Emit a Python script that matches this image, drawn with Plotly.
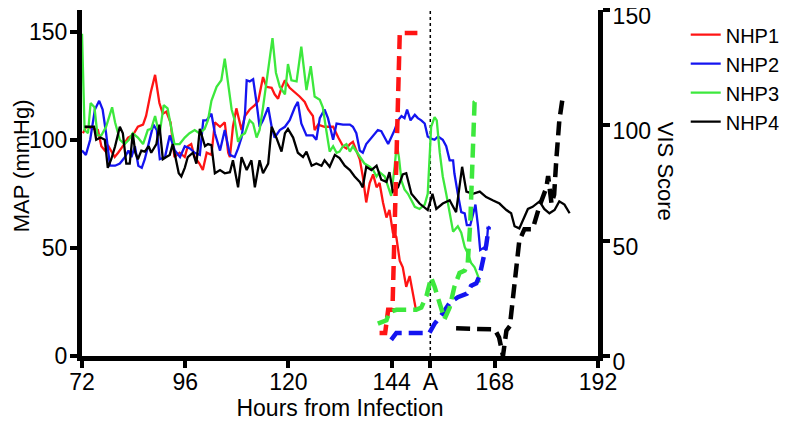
import plotly.graph_objects as go

# MAP (mmHg), left axis - hours from infection
nhp1_h = [72.2, 73, 74.6, 75.7, 76.5, 77.3, 78, 78.8, 79.6, 80.4, 81.5, 82.7, 83.8, 85, 86.2, 86.9, 88, 89, 90, 90.8,
          91.6, 92.6, 93.5, 94.7, 95.9, 96.6, 97.4, 98.2, 99.3, 100.1, 101, 102.1, 102.9, 104.1, 105.2, 106, 106.4, 107.1, 107.9, 109.1,
          109.9, 111, 112.2, 113, 114.1, 114.9, 116.1, 116.8, 117.6, 118.4, 119.2, 120.3, 121.5, 122.6, 123.8, 124.6, 125.7, 126.1, 126.9, 128.4,
          129.6, 130.4, 131.6, 132.7, 133.5, 134.3, 135, 135.8, 136.6, 137.3, 138.1, 138.9, 139.7, 140.5, 141.2, 142, 142.8, 143.5, 144.3, 145.1,
          145.9, 146.6, 147.4, 148.2, 149, 149.7]
nhp1_map = [103, 106, 105, 104.5, 97, 95, 97.5, 94.5, 92, 94, 97, 101, 102, 106, 107, 111, 122, 130, 117, 112,
            113, 108, 92, 94, 92, 97, 98, 92, 89, 86, 94, 93, 108, 106, 108, 94, 92, 106, 114.5, 104.5,
            111, 114, 116, 118, 129, 124.5, 124, 121, 119, 124, 127.5, 124, 122, 120, 117.5, 114, 111, 104.5, 107, 106,
            106, 106, 101, 97, 96, 98, 99, 95, 91, 83, 71, 80, 84, 78, 80, 71, 64, 67.5, 57, 55,
            44, 41, 32, 37, 29, 21]

nhp2_h = [72, 72.9, 73.9, 75, 76, 76.8, 77.6, 78.5, 79.7, 80.8, 82, 82.8, 83.5, 84.3, 85.1, 85.9, 86.6, 87.4, 88.6, 89.4,
          90.1, 91.3, 92.4, 93.6, 94.8, 95.9, 97.1, 98.2, 99.4, 100.2, 101, 102.1, 102.9, 104.1, 105.2, 106.4, 107.5, 108.3, 109.1, 109.9,
          110.3, 111, 111.8, 112.6, 113.3, 114.1, 115.3, 116.1, 116.8, 118, 119.2, 120.3, 121.5, 122.2, 123, 124.2, 125.7, 126.5, 127.3, 128.4,
          129.2, 130.4, 131.2, 132.7, 134.3, 135, 135.8, 136.6, 137.3, 138.1, 139.7, 140.8, 141.6, 142.4, 143.2, 143.9, 144.7, 145.5, 146.3, 147,
          147.6, 148.4, 149.4, 150.1, 150.9, 151.7, 152.4, 153.2, 154, 154.8, 155.9, 156.7, 157.5, 158.3, 158.6, 159.4, 160.2, 161, 161.5, 162.3,
          162.9, 163.5, 164.1, 164.6, 165.4, 166, 166.4, 166.8]
nhp2_map = [95, 93, 100, 114, 118, 114, 103, 88, 88, 89, 92, 95, 92, 97, 88, 87, 91, 98, 107, 104.5,
            91, 92, 102, 95, 92, 97, 96, 94, 93, 109, 109, 112, 103, 95, 104.5, 93, 92, 96, 101, 112,
            127.5, 127, 128, 117, 106, 109, 115, 106, 101, 104.5, 106, 109, 115, 117.5, 107.5, 102, 102, 100, 110, 114,
            110, 100, 107.5, 107, 107, 106, 103, 95, 94, 98, 102, 104.5, 104, 101, 98, 101, 104.5, 109, 111, 110,
            114, 109, 111.5, 110, 109, 107.5, 101.5, 100.5, 100, 101.5, 100, 97, 90.5, 90.5, 84.5, 75, 66.5, 66, 60.5, 60.5,
            66, 70, 60, 49, 50, 49, 59, 60]

nhp3_h = [72, 72.6, 73.4, 74, 74.9, 75.6, 76.5, 77.6, 79, 79.7, 80.8, 81.9, 82.9, 83.8, 85, 86.2, 87.3, 88.1, 89, 90,
          91, 91.9, 92.7, 93.5, 94.7, 95.9, 97, 98.2, 99.3, 100.5, 101.3, 102.1, 103.3, 104.4, 105.2, 106, 106.8, 107.5, 108.3, 109.1,
          109.9, 111, 111.8, 112.6, 113.3, 114.1, 114.9, 115.7, 116.3, 117.1, 118, 119.2, 119.9, 120.7, 121.9, 123, 124.2, 125.2, 126.1, 127.3,
          128, 128.8, 129.6, 130.4, 131.2, 131.9, 132.7, 133.5, 134.3, 135, 135.8, 136.6, 137.7, 138.9, 139.7, 140.5, 141.2, 142.4, 143.2, 143.9,
          144.7, 145.2, 145.7, 146.3, 147, 147.8, 148.6, 149.4, 150.5, 151.7, 152.4, 153.2, 154, 154.5, 155.2, 155.9, 156.7, 157.9, 158.3, 159.4,
          160.2, 161, 161.7, 162.5, 163.3, 164.1, 164.5]
nhp3_map = [149, 104.5, 103, 117, 115, 102, 102, 106, 115, 108, 100, 98, 100, 103, 101, 98, 104.5, 105, 111, 102,
            116, 114.5, 106, 98, 98, 101, 103, 104.5, 103, 105, 109, 118, 124.5, 127.5, 137.5, 124.5, 114, 109, 99, 102,
            103, 109, 107.5, 101, 104.5, 115, 126, 138, 147, 131, 124.5, 121, 135, 127.5, 127, 143, 123, 134, 120, 118.5,
            115, 104.5, 94.5, 97, 94, 94.5, 97, 98, 94.5, 97, 94.5, 92, 89, 87.5, 86, 83, 85, 83, 78, 74,
            87.5, 98, 92, 81, 77, 75, 72, 69, 68, 70, 75, 106, 110.5, 109, 94, 83, 75, 63, 57.5, 60,
            57, 50.5, 47.5, 43, 41, 37, 34]

nhp4_h = [72.6, 73.8, 74.8, 75.3, 76.3, 77.3, 78, 78.8, 79.7, 80.8, 81.5, 82.3, 83.1, 83.8, 84.4, 85, 85.8, 86.6, 87.5, 88.1,
          89.3, 90, 90.8, 91.6, 92.4, 93.1, 93.9, 94.5, 95.1, 95.9, 96.6, 97.8, 98.6, 99.4, 100.6, 101.3, 102.1, 102.9, 104.1, 105.2,
          106.4, 107.1, 108.3, 109.1, 110.3, 111.4, 112.2, 113.3, 114.1, 115.3, 116.1, 117.2, 118.4, 119.2, 119.9, 121.1, 122.2, 123.4, 124.2, 125.4,
          126.5, 127.7, 128.4, 129.6, 130.8, 131.9, 133.1, 134.3, 135.4, 136.6, 137.3, 138.1, 139.3, 140.5, 141.6, 142.8, 143.5, 144.3, 145.5, 146.6,
          147.4, 148.6, 150.5, 152.4, 153.5, 154.4, 155.9, 157.5, 159, 160.4, 161.4, 162.9, 164.5, 166, 167.5, 169.1, 169.9, 170.7, 171.8, 172.6,
          173.7, 174.9, 175.7, 176.8, 178.4, 179.5, 180.7, 181.9, 183, 184.2, 185.4]
nhp4_map = [106, 106, 106, 100, 101, 100, 87, 91, 97, 106, 103, 89, 89, 103, 94, 91, 95, 94.5, 97, 94,
            98, 107, 91, 92, 93, 98, 91, 84.5, 83, 87, 92, 94, 89, 105, 97, 98, 97.5, 84.5, 86, 84.5,
            85, 90.5, 78, 92, 86, 90.5, 78, 90.5, 84.5, 89, 106, 101, 94.5, 103, 105, 101, 94, 92, 94.5, 88,
            89, 88, 90.5, 87.5, 93, 91.5, 88, 86, 83, 80.5, 78, 87.5, 86, 88, 81.5, 80.5, 85, 76, 78, 84,
            84.5, 75, 70.5, 67.5, 75, 68, 70.5, 72, 66.5, 87.5, 76, 75, 76, 73.5, 72, 70.5, 69, 67.5, 66, 60,
            59, 64.5, 68, 69, 71.5, 68, 66, 67.5, 71.5, 70, 66]

# VIS score, right axis
vis1_h = [141.2, 142.5, 143.2, 144.2, 145.9, 150.0]
vis1 = [10, 10, 20, 20, 140, 140]
vis2_h = [143.9, 145.1, 152.8, 154.0, 155.9, 157.5, 159.4, 161.5, 162.5, 163.7, 164.5, 165.3, 166.0, 166.6]
vis2 = [7, 10, 10, 14, 18.5, 23, 25.5, 27, 30.5, 31.5, 35, 41, 48, 56]
vis3_h = [140.8, 142.8, 143.5, 145.1, 149.7, 150.9, 152.1, 153.2, 154.0, 155.2, 156.3, 157.5, 158.6, 159.8, 161.0, 161.7, 162.3, 163.3, 164.5]
vis3 = [14, 15.5, 19, 20, 20, 21, 26, 34, 30, 23, 16, 21, 30, 36, 37, 40, 58, 110, 112]
vis4_h = [159, 168, 169, 169.9, 170.7, 171.5, 173.7, 174.9, 176.8, 178.4, 180, 180.4, 181.2, 181.8, 182.3, 183.0, 183.7]
vis4 = [12, 11.5, 8, 0, 11, 13, 50, 55, 55, 65, 73, 78, 66, 70, 85, 102, 111]

x_ticks = [72, 96, 120, 144, 153, 168, 192]
x_labels = ["72", "96", "120", "144", "A", "168", "192"]
A_HOUR = 153

names = ["NHP1", "NHP2", "NHP3", "NHP4"]
colors = ["#ff1414", "#1414f0", "#3de83d", "#000000"]
FONT = "Liberation Sans, Arial, Helvetica, sans-serif"

fig = go.Figure()

solid = [(nhp1_h, nhp1_map), (nhp2_h, nhp2_map), (nhp3_h, nhp3_map), (nhp4_h, nhp4_map)]
for (h, v), name, c in zip(solid, names, colors):
    fig.add_trace(go.Scatter(x=h, y=v, mode="lines", name=name,
                             line=dict(color=c, width=2.3), yaxis="y"))

dashed = [(vis1_h, vis1), (vis2_h, vis2), (vis3_h, vis3), (vis4_h, vis4)]
for (h, v), c in zip(dashed, colors):
    fig.add_trace(go.Scatter(x=h, y=v, mode="lines", showlegend=False,
                             line=dict(color=c, width=4.5, dash="14px,7px"), yaxis="y2"))

# dotted marker line at A
fig.add_shape(type="line", x0=A_HOUR, x1=A_HOUR, y0=0, y1=1, xref="x", yref="paper",
              line=dict(color="black", width=1.5, dash="dot"), layer="below")

axis_common = dict(showgrid=False, zeroline=False, showline=True, linecolor="black", linewidth=5,
                   ticks="outside", ticklen=7, tickwidth=4, tickcolor="black", automargin=False,
                   ticklabeloverflow="allow",
                   tickfont=dict(size=23, color="black", family=FONT))

# the page body adds an 8px offset, so the figure is 8px smaller than the window
fig.update_layout(
    width=779, height=420,
    margin=dict(l=74, r=189, t=2, b=72, autoexpand=False),
    paper_bgcolor="white", plot_bgcolor="white",
    font=dict(family=FONT, color="black"),
    xaxis=dict(range=[72, 192], tickvals=x_ticks, ticktext=x_labels, ticklabelstandoff=-6,
               title=dict(text="Hours from Infection", font=dict(size=23, family=FONT), standoff=4),
               **axis_common),
    yaxis=dict(range=[0, 160], tickvals=[0, 50, 100, 150], ticklabelstandoff=-2, **axis_common),
    yaxis2=dict(range=[0, 150], tickvals=[0, 50, 100, 150], overlaying="y", side="right",
                ticklabelstandoff=-2, ticklabelshift=6, **axis_common),
    legend=dict(x=1.17, y=0.985, xanchor="left", yanchor="top", font=dict(size=20, family=FONT),
                bgcolor="rgba(0,0,0,0)", tracegroupgap=0),
    annotations=[
        dict(text="MAP (mmHg)", textangle=-90, x=-0.117, y=0.55, xref="paper", yref="paper",
             xanchor="center", yanchor="middle", showarrow=False, font=dict(size=22, family=FONT)),
        dict(text="VIS Score", textangle=90, x=1.13, y=0.535, xref="paper", yref="paper",
             xanchor="center", yanchor="middle", showarrow=False, font=dict(size=22, family=FONT)),
    ],
)

fig.write_html("out.html")
